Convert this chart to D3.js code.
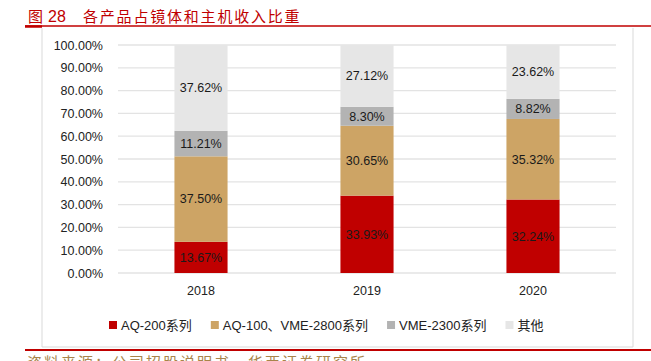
<!DOCTYPE html>
<html>
<head>
<meta charset="utf-8">
<script src="https://cdn.jsdelivr.net/npm/d3@7"></script>
<style>
  body { margin: 0; background: #fff; }
  svg { display: block; }
  text { font-family: "Liberation Sans", "Noto Sans CJK SC", sans-serif; }
</style>
</head>
<body>
<script>
// data
var years = ["2018", "2019", "2020"];
var series = ["AQ-200系列", "AQ-100、VME-2800系列", "VME-2300系列", "其他"];
var aq200 = [13.67, 33.93, 32.24];
var aq100 = [37.50, 30.65, 35.32];
var vme2300 = [11.21, 8.30, 8.82];
var other = [37.62, 27.12, 23.62];
var yTicks = [0, 10, 20, 30, 40, 50, 60, 70, 80, 90, 100];
var colors = ["#c00000", "#cda465", "#b3b3b3", "#e6e6e6"];

var w = 651, h = 361;

var svg = d3.select("body").
append("svg").
attr("width", w).
attr("height", h);

// title and red rules
svg.append("text").
attr("x", 28).
attr("y", 22).
attr("fill", "#c00000").
style("font-size", "15px").
style("font-family", "'Noto Sans CJK SC', sans-serif").
text("图");

svg.append("text").
attr("x", 48).
attr("y", 22).
attr("fill", "#c00000").
style("font-size", "16px").
style("font-family", "'Liberation Sans', sans-serif").
text("28");

svg.append("text").
attr("x", 83).
attr("y", 22).
attr("fill", "#c00000").
style("font-size", "15px").
style("letter-spacing", "1.8px").
style("font-family", "'Noto Sans CJK SC', sans-serif").
text("各产品占镜体和主机收入比重");

svg.append("line").
attr("x1", 25).attr("x2", 651).
attr("y1", 26).attr("y2", 26).
attr("stroke", "#c00000").
attr("stroke-width", 1.5);

svg.append("line").
attr("x1", 25).attr("x2", 42).
attr("y1", 26.5).attr("y2", 26.5).
attr("stroke", "#c00000").
attr("stroke-width", 2.5);

// light frame
svg.append("path").
attr("d", "M42,28V347H633V28").
attr("fill", "none").
attr("stroke", "#d9d9d9").
attr("stroke-width", 1);

svg.append("line").
attr("x1", 25).attr("x2", 651).
attr("y1", 350).attr("y2", 350).
attr("stroke", "#c00000").
attr("stroke-width", 2);

// source line, cut by the bottom edge as in the reference
svg.append("text").
attr("x", 27).
attr("y", 368).
attr("fill", "#a8844a").
style("font-size", "15px").
style("letter-spacing", "2px").
style("font-family", "'Noto Sans CJK SC', sans-serif").
text("资料来源：公司招股说明书，华西证券研究所");

// scales
var xScale = d3.scaleBand().
domain(years).
range([118, 616]).
paddingInner(0.68).
paddingOuter(0.34);

var yScale = d3.scaleLinear().
domain([0, 100]).
range([273, 45]);

// gridlines
svg.append("g").
selectAll("line").
data(yTicks).
enter().
append("line").
attr("x1", 118).
attr("x2", 616).
attr("y1", function (d) {return yScale(d);}).
attr("y2", function (d) {return yScale(d);}).
attr("stroke", "#e3e3e3").
attr("stroke-width", 1.3);

// y axis labels
var yAxis = d3.axisLeft(yScale).
tickValues(yTicks).
tickSize(0).
tickPadding(0).
tickFormat(function (d) {return d.toFixed(2) + "%";});

var yg = svg.append("g").
attr("transform", "translate(103,0)").
call(yAxis);
yg.select(".domain").remove();
yg.selectAll("text").
attr("fill", "#222").
style("font-size", "12.5px").
style("font-family", "'Liberation Sans', sans-serif");

// x axis labels
var xAxis = d3.axisBottom(xScale).tickSize(0).tickPadding(0);
var xg = svg.append("g").
attr("transform", "translate(0,286)").
call(xAxis);
xg.select(".domain").remove();
xg.selectAll("text").
attr("fill", "#222").
style("font-size", "12.5px").
style("font-family", "'Liberation Sans', sans-serif");

// stacked bars
var table = years.map(function (y, i) {
	return {year: y, s0: aq200[i], s1: aq100[i], s2: vme2300[i], s3: other[i]};
});
var stack = d3.stack().keys(["s0", "s1", "s2", "s3"]);
var layers = stack(table);

var layer = svg.selectAll(".layer").
data(layers).
enter().
append("g").
attr("class", "layer").
attr("fill", function (d, i) {return colors[i];});

layer.selectAll("rect").
data(function (d) {return d;}).
enter().
append("rect").
attr("x", function (d) {return xScale(d.data.year);}).
attr("y", function (d) {return yScale(d[1]);}).
attr("width", xScale.bandwidth()).
attr("height", function (d) {return yScale(d[0]) - yScale(d[1]);});

layer.selectAll("text").
data(function (d) {return d;}).
enter().
append("text").
attr("x", function (d) {return xScale(d.data.year) + xScale.bandwidth() / 2;}).
attr("y", function (d) {return (yScale(d[0]) + yScale(d[1])) / 2;}).
attr("dy", "0.35em").
attr("text-anchor", "middle").
attr("fill", "#1a1a1a").
style("font-size", "12.5px").
text(function (d) {return (d[1] - d[0]).toFixed(2) + "%";});

// legend
var legend = svg.append("g").attr("transform", "translate(109,0)");
var lx = 0;
series.forEach(function (name, i) {
	var item = legend.append("g").attr("transform", "translate(" + lx + ",0)");
	item.append("rect").
	attr("x", 0).
	attr("y", 321).
	attr("width", 8).
	attr("height", 8).
	attr("fill", colors[i]);
	var t = item.append("text").
	attr("x", 12).
	attr("y", 329.5).
	attr("fill", "#222").
	style("font-size", "13px").
	text(name);
	lx += 12 + t.node().getComputedTextLength() + 19;
});
</script>
</body>
</html>
